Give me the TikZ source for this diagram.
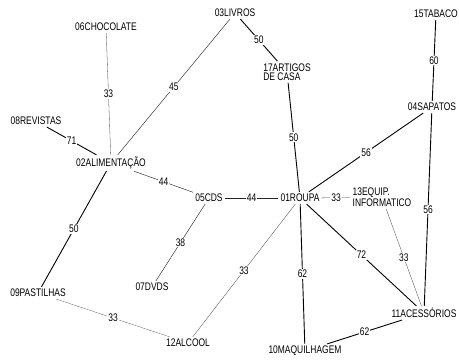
\documentclass[tikz,border=0pt]{standalone}
\usepackage{fontspec}
\setmainfont{Liberation Sans}[FakeStretch=0.77]
\begin{document}
\begin{tikzpicture}[x=1pt,y=-1pt,
  every node/.style={font=\fontsize{11}{8}\selectfont},
  vtx/.style={inner sep=2pt},
  w/.style={fill=white, inner sep=1pt},
  lo/.style={draw=black!75, line width=0.3pt},
  md/.style={draw=black!85, line width=0.45pt},
  hi/.style={draw=black, line width=0.9pt}]
\useasboundingbox (0,0) rectangle (459,361);
% vertices
\node[vtx] (n06) at (106,27) {06CHOCOLATE};
\node[vtx] (n03) at (235,13) {03LIVROS};
\node[vtx] (n15) at (436,14) {15TABACO};
\node[vtx, align=left, font=\fontsize{11}{9.5}\selectfont] (n17) at (287,72) {17ARTIGOS\\DE CASA};
\node[vtx] (n08) at (36,121) {08REVISTAS};
\node[vtx] (n02) at (111,163) {02ALIMENTAÇÃO};
\node[vtx] (n04) at (432,107) {04SAPATOS};
\node[vtx] (n05) at (209,198) {05CDS};
\node[vtx] (n01) at (300,198) {01ROUPA};
\node[vtx, align=left, font=\fontsize{11}{9.5}\selectfont] (n13) at (382,197.5) {13EQUIP.\\INFORMATICO};
\node[vtx] (n07) at (152,287) {07DVDS};
\node[vtx] (n09) at (38,293) {09PASTILHAS};
\node[vtx] (n12) at (188,343) {12ALCOOL};
\node[vtx] (n11) at (424,313) {11ACESSÓRIOS};
\node[vtx] (n10) at (305,351) {10MAQUILHAGEM};
% edges
\draw[lo] (n06) -- node[w]{33} (n02);
\draw[md] (n03) -- node[w]{45} (n02);
\draw[hi] (n08) -- node[w]{71} (n02);
\draw[hi] (n03) -- node[w]{50} (n17);
\draw[hi] (n17) -- node[w]{50} (n01);
\draw[hi] (n15) -- node[w]{60} (n04);
\draw[hi] (n04) -- node[w]{56} (n01);
\draw[hi] (n04) -- node[w]{56} (n11);
\draw[md] (n02) -- node[w]{44} (n05);
\draw[hi] (n02) -- node[w]{50} (n09);
\draw[md] (n05) -- node[w]{44} (n01);
\draw[lo] (n01) -- node[w]{33} (n13);
\draw[md] (n05) -- node[w]{38} (n07);
\draw[lo] (n01) -- node[w]{33} (n12);
\draw[hi] (n01) -- node[w]{62} (n10);
\draw[hi] (n01) -- node[w]{72} (n11);
\draw[lo] (n13) -- node[w]{33} (n11);
\draw[lo] (n09) -- node[w]{33} (n12);
\draw[hi] (n10) -- node[w]{62} (n11);
\end{tikzpicture}
\end{document}
